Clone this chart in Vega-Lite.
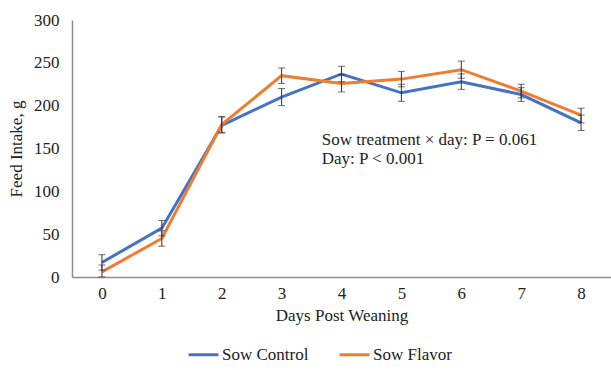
{
  "$schema": "https://vega.github.io/schema/vega-lite/v6.json",
  "width": 539,
  "height": 257,
  "autosize": {"type": "none"},
  "padding": {"left": 72, "top": 20, "right": 0, "bottom": 93},
  "background": "white",
  "config": {
    "view": {"stroke": null},
    "font": "Liberation Serif",
    "axis": {"labelFont": "Liberation Serif", "titleFont": "Liberation Serif", "labelFontSize": 17, "titleFontSize": 17, "titleFontWeight": "normal", "labelColor": "#222", "titleColor": "#222", "domainColor": "#8c8c8c", "domainWidth": 1.5, "ticks": false, "grid": false},
    "legend": {"labelFont": "Times New Roman", "labelFontSize": 17, "labelColor": "#222"}
  },
  "datasets": {
    "feed": [
      {"day": 0, "group": "Sow Control", "intake": 17, "lo": 8, "hi": 26},
      {"day": 1, "group": "Sow Control", "intake": 57, "lo": 48, "hi": 66},
      {"day": 2, "group": "Sow Control", "intake": 177, "lo": 168, "hi": 187},
      {"day": 3, "group": "Sow Control", "intake": 210, "lo": 200, "hi": 220},
      {"day": 4, "group": "Sow Control", "intake": 237, "lo": 228, "hi": 246},
      {"day": 5, "group": "Sow Control", "intake": 215, "lo": 205, "hi": 225},
      {"day": 6, "group": "Sow Control", "intake": 228, "lo": 219, "hi": 237},
      {"day": 7, "group": "Sow Control", "intake": 213, "lo": 205, "hi": 221},
      {"day": 8, "group": "Sow Control", "intake": 180, "lo": 171, "hi": 189},
      {"day": 0, "group": "Sow Flavor", "intake": 6, "lo": 0, "hi": 14},
      {"day": 1, "group": "Sow Flavor", "intake": 45, "lo": 36, "hi": 54},
      {"day": 2, "group": "Sow Flavor", "intake": 178, "lo": 169, "hi": 187},
      {"day": 3, "group": "Sow Flavor", "intake": 235, "lo": 226, "hi": 244},
      {"day": 4, "group": "Sow Flavor", "intake": 226, "lo": 216, "hi": 236},
      {"day": 5, "group": "Sow Flavor", "intake": 231, "lo": 222, "hi": 240},
      {"day": 6, "group": "Sow Flavor", "intake": 242, "lo": 232, "hi": 252},
      {"day": 7, "group": "Sow Flavor", "intake": 217, "lo": 209, "hi": 225},
      {"day": 8, "group": "Sow Flavor", "intake": 189, "lo": 180, "hi": 197}
    ],
    "note": [
      {"day": 3.67, "intake": 160, "label": ["Sow treatment × day: P  = 0.061", "Day: P  < 0.001"]}
    ]
  },
  "layer": [
    {
      "data": {"name": "feed"},
      "mark": {"type": "line", "strokeWidth": 3},
      "encoding": {
        "x": {"field": "day", "type": "quantitative", "scale": {"domain": [-0.5, 8.5], "nice": false}, "axis": {"values": [0,1,2,3,4,5,6,7,8], "format": "d", "title": "Days Post Weaning", "labelPadding": 8, "titlePadding": 6}},
        "y": {"field": "intake", "type": "quantitative", "scale": {"domain": [0, 300], "nice": false}, "axis": {"values": [0,50,100,150,200,250,300], "title": "Feed Intake, g", "domain": true, "labelPadding": 13, "titlePadding": 8}},
        "color": {"field": "group", "type": "nominal", "scale": {"domain": ["Sow Control", "Sow Flavor"], "range": ["#4472c4", "#ed7d31"]}, "legend": {"title": null, "orient": "none", "legendX": 115, "legendY": 318, "direction": "horizontal", "symbolType": "stroke", "symbolStrokeWidth": 3, "symbolSize": 900, "labelOffset": 2, "columnPadding": 24, "labelFont": "Times New Roman", "labelFontSize": 17, "labelColor": "#222", "labelLimit": 300}}
      }
    },
    {
      "data": {"name": "feed"},
      "mark": {"type": "rule", "color": "#333", "strokeWidth": 1},
      "encoding": {
        "x": {"field": "day", "type": "quantitative"},
        "y": {"field": "lo", "type": "quantitative"},
        "y2": {"field": "hi"}
      }
    },
    {
      "data": {"name": "feed"},
      "mark": {"type": "tick", "color": "#333", "orient": "horizontal", "size": 7, "thickness": 1},
      "encoding": {
        "x": {"field": "day", "type": "quantitative"},
        "y": {"field": "lo", "type": "quantitative"}
      }
    },
    {
      "data": {"name": "feed"},
      "mark": {"type": "tick", "color": "#333", "orient": "horizontal", "size": 7, "thickness": 1},
      "encoding": {
        "x": {"field": "day", "type": "quantitative"},
        "y": {"field": "hi", "type": "quantitative"}
      }
    },
    {
      "data": {"name": "note"},
      "mark": {"type": "text", "align": "left", "baseline": "middle", "fontSize": 17, "font": "Liberation Serif", "color": "#222", "lineHeight": 19},
      "encoding": {
        "x": {"field": "day", "type": "quantitative"},
        "y": {"field": "intake", "type": "quantitative"},
        "text": {"field": "label"}
      }
    }
  ]
}
